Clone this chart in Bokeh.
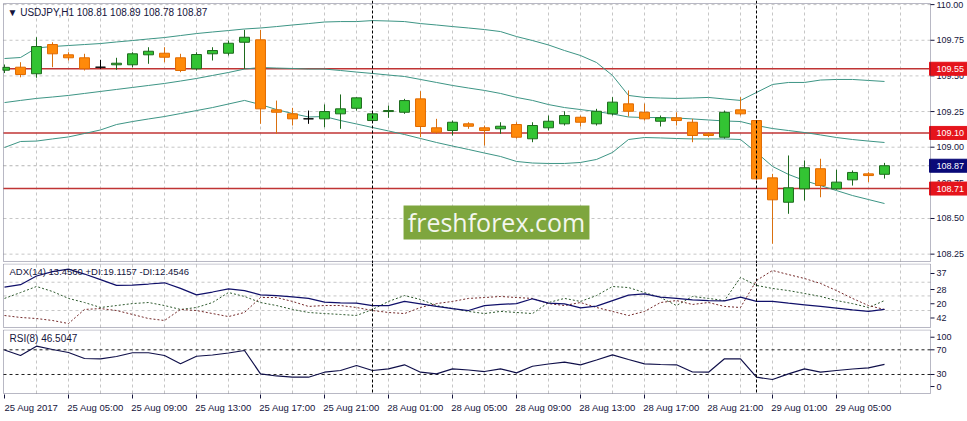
from bokeh.plotting import figure
from bokeh.layouts import column
from bokeh.models import Range1d, FixedTicker, Span, Label, BoxAnnotation, ColumnDataSource
from bokeh.core.properties import value
from bokeh.embed import file_html
from bokeh.resources import INLINE

# ---------------- data ----------------
bars = list(range(56))
time_label_bars = [0, 4, 8, 12, 16, 20, 24, 28, 32, 36, 40, 44, 48, 52]
time_labels = ["25 Aug 2017", "25 Aug 05:00", "25 Aug 09:00", "25 Aug 13:00", "25 Aug 17:00",
               "25 Aug 21:00", "28 Aug 01:00", "28 Aug 05:00", "28 Aug 09:00", "28 Aug 13:00",
               "28 Aug 17:00", "28 Aug 21:00", "29 Aug 01:00", "29 Aug 05:00"]
grid_bars = list(range(2, 58, 2))
day_start_bars = [23, 47]

opens = [109.540, 109.561, 109.515, 109.720, 109.648, 109.627, 109.561, 109.578, 109.578, 109.648,
         109.659, 109.627, 109.550, 109.655, 109.659, 109.736, 109.753, 109.262, 109.234, 109.199,
         109.199, 109.234, 109.273, 109.187, 109.250, 109.245, 109.339, 109.136, 109.117, 109.164,
         109.136, 109.129, 109.159, 109.059, 109.136, 109.164, 109.210, 109.164, 109.234, 109.304,
         109.245, 109.182, 109.206, 109.175, 109.094, 109.070, 109.262, 109.187, 108.785, 108.614,
         108.708, 108.849, 108.708, 108.771, 108.813, 108.810]
highs = [109.580, 109.596, 109.771, 109.736, 109.666, 109.655, 109.613, 109.627, 109.666, 109.701,
         109.701, 109.655, 109.666, 109.701, 109.748, 109.823, 109.823, 109.327, 109.276, 109.257,
         109.300, 109.370, 109.351, 109.245, 109.292, 109.339, 109.393, 109.199, 109.187, 109.175,
         109.152, 109.175, 109.175, 109.175, 109.222, 109.252, 109.222, 109.269, 109.351, 109.398,
         109.306, 109.222, 109.245, 109.199, 109.105, 109.257, 109.351, 109.190, 108.813, 108.942,
         108.907, 108.919, 108.842, 108.837, 108.825, 108.890]
lows = [109.520, 109.490, 109.487, 109.561, 109.608, 109.538, 109.550, 109.543, 109.561, 109.585,
        109.596, 109.526, 109.538, 109.608, 109.643, 109.550, 109.164, 109.094, 109.152, 109.164,
        109.140, 109.129, 109.257, 109.175, 109.206, 109.234, 109.070, 109.094, 109.082, 109.129,
        109.012, 109.094, 109.060, 109.035, 109.117, 109.152, 109.145, 109.152, 109.222, 109.215,
        109.187, 109.145, 109.152, 109.035, 109.070, 109.060, 109.222, 108.770, 108.323, 108.533,
        108.626, 108.649, 108.701, 108.731, 108.755, 108.780]
closes = [109.560, 109.510, 109.706, 109.655, 109.627, 109.550, 109.561, 109.589, 109.655, 109.673,
          109.631, 109.538, 109.650, 109.678, 109.729, 109.771, 109.269, 109.245, 109.199, 109.199,
          109.250, 109.269, 109.346, 109.234, 109.257, 109.327, 109.145, 109.105, 109.175, 109.147,
          109.117, 109.147, 109.070, 109.152, 109.182, 109.222, 109.175, 109.252, 109.316, 109.252,
          109.199, 109.206, 109.187, 109.082, 109.082, 109.245, 109.234, 108.778, 108.631, 108.715,
          108.856, 108.731, 108.755, 108.823, 108.801, 108.870]

bb_upper = [109.622, 109.629, 109.696, 109.706, 109.713, 109.720, 109.727, 109.738, 109.748, 109.759,
            109.769, 109.783, 109.797, 109.808, 109.818, 109.829, 109.836, 109.846, 109.857, 109.867,
            109.878, 109.881, 109.881, 109.888, 109.885, 109.881, 109.867, 109.857, 109.846, 109.836,
            109.825, 109.811, 109.776, 109.748, 109.717, 109.678, 109.643, 109.594, 109.503, 109.363,
            109.349, 109.345, 109.342, 109.345, 109.349, 109.338, 109.328, 109.384, 109.440, 109.454,
            109.454, 109.471, 109.475, 109.475, 109.468, 109.461]
bb_middle = [109.313, 109.328, 109.342, 109.352, 109.363, 109.377, 109.391, 109.405, 109.419, 109.433,
             109.447, 109.464, 109.482, 109.503, 109.524, 109.548, 109.559, 109.555, 109.552, 109.548,
             109.548, 109.538, 109.527, 109.517, 109.506, 109.496, 109.475, 109.454, 109.433, 109.415,
             109.398, 109.377, 109.349, 109.328, 109.299, 109.278, 109.264, 109.250, 109.233, 109.212,
             109.208, 109.208, 109.205, 109.198, 109.191, 109.184, 109.180, 109.152, 109.131, 109.117,
             109.103, 109.086, 109.068, 109.054, 109.043, 109.033]
bb_lower = [108.998, 109.040, 109.043, 109.058, 109.072, 109.096, 109.121, 109.159, 109.180, 109.198,
            109.215, 109.236, 109.257, 109.278, 109.303, 109.328, 109.299, 109.264, 109.236, 109.212,
            109.215, 109.187, 109.163, 109.138, 109.114, 109.089, 109.061, 109.033, 109.008, 108.984,
            108.959, 108.935, 108.900, 108.889, 108.886, 108.886, 108.893, 108.914, 108.963, 109.054,
            109.068, 109.065, 109.061, 109.058, 109.058, 109.058, 109.054, 108.963, 108.865, 108.809,
            108.766, 108.731, 108.696, 108.661, 108.633, 108.605]

adx = [29.4, 30.7, 35.6, 38.1, 39.5, 36.7, 33.6, 30.3, 30.5, 31.1,
       31.8, 28.6, 25.0, 26.6, 28.4, 27.4, 25.0, 24.6, 23.8, 23.0,
       20.9, 20.5, 20.3, 19.0, 19.0, 21.3, 19.9, 18.5, 17.3, 16.2,
       19.0, 19.6, 20.1, 22.8, 20.4, 19.9, 17.7, 18.7, 21.8, 24.9,
       25.5, 23.7, 23.0, 22.2, 21.7, 21.6, 23.7, 21.3, 21.3, 20.3,
       19.4, 18.5, 17.5, 16.5, 15.7, 16.8]
plus_di = [23.0, 26.3, 29.7, 26.9, 23.0, 20.7, 17.9, 19.0, 20.1, 20.7,
           19.0, 16.8, 17.9, 20.7, 26.3, 24.1, 20.7, 19.0, 16.8, 15.1,
           14.5, 14.0, 13.4, 16.8, 21.3, 24.6, 22.4, 19.0, 17.3, 15.7,
           14.5, 15.7, 15.1, 14.5, 20.7, 23.0, 21.3, 24.6, 29.7, 29.1,
           26.3, 23.5, 19.0, 24.1, 23.0, 21.8, 34.8, 30.3, 28.6, 27.4,
           25.8, 24.1, 21.8, 20.1, 17.9, 21.8]
minus_di = [13.4, 12.3, 11.7, 10.6, 8.9, 16.8, 17.3, 16.2, 14.0, 11.7,
            10.6, 16.8, 16.2, 14.5, 12.8, 15.1, 23.5, 23.5, 21.3, 18.5,
            19.0, 19.0, 17.9, 16.2, 15.1, 14.5, 17.9, 20.1, 21.3, 23.0,
            23.5, 24.1, 23.5, 23.0, 20.1, 19.0, 20.7, 17.9, 15.7, 13.4,
            15.7, 20.7, 21.8, 19.6, 20.7, 18.5, 17.9, 33.1, 38.7, 36.4,
            34.2, 31.4, 27.4, 23.0, 19.0, 16.8]
rsi = [69.7, 60.8, 75.9, 70.5, 65.6, 55.9, 55.4, 59.2, 65.2, 65.2,
       60.8, 47.3, 59.6, 61.6, 64.8, 68.9, 31.1, 27.6, 25.6, 25.6,
       33.7, 36.5, 44.6, 36.5, 39.2, 45.7, 33.7, 31.1, 39.2, 37.3,
       34.8, 39.2, 32.7, 43.4, 47.0, 49.9, 45.7, 53.5, 61.9, 54.3,
       47.3, 46.2, 45.7, 34.0, 33.7, 55.4, 55.4, 25.6, 21.9, 31.1,
       39.2, 33.7, 36.5, 38.9, 40.8, 46.5]

price_ticks = [110.00, 109.75, 109.50, 109.25, 109.00, 108.75, 108.50, 108.25]
price_tick_labels = ["110.00", "109.75", "109.50", "109.25", "109.00", "108.75", "108.50", "108.25"]
price_grid = [110.00, 109.75, 109.50, 109.25, 109.00, 108.50, 108.25]
level_lines = [109.55, 109.10, 108.71]
bid_price = 108.87

adx_ticks = [37, 28, 20, 12]
adx_tick_labels = ["37", "28", "20", "42"]
adx_grid = [32.1, 24.4, 16.2]
rsi_levels = [70, 30]
rsi_ticks = [90.4, 70, 30, 10.5]
rsi_tick_labels = ["100", "70", "30", "0"]

main_title = "\u25bc USDJPY,H1  108.81 108.89 108.78 108.87"
adx_title = "ADX(14) 13.4560 +DI:19.1157 -DI:12.4546"
rsi_title = "RSI(8) 46.5047"
watermark = "freshforex.com"

# ---------------- style / layout ----------------
FONT = "Liberation Sans"
INK = "#14143c"
GRID = "#c6c6c6"
BAND = "#3d9585"
W = 967
AX = 57.875            # bar-axis position of the price scale line
X_LEFT = -0.0625       # left border of the chart panes
xr = Range1d(-0.125, 60.1875)


def make_fig(height, yr, bottom, with_xaxis=False):
    p = figure(width=W, height=height, x_range=xr, y_range=yr, output_backend="svg",
               toolbar_location=None, title=None, y_axis_location=None,
               x_axis_location="below" if with_xaxis else None,
               min_border_left=2, min_border_top=0, min_border_right=0,
               min_border_bottom=bottom)
    p.background_fill_color = "white"
    p.border_fill_color = "white"
    p.outline_line_color = None
    p.grid.visible = False
    for b in day_start_bars:
        p.add_layout(Span(location=b, dimension="height", line_color="black",
                          line_dash="3 2", line_width=1))
    return p


def pane_frame(p, y_bot, y_top, hgrid):
    n = len(grid_bars)
    p.segment(x0=grid_bars, y0=[y_bot] * n, x1=grid_bars, y1=[y_top] * n,
              line_color=GRID, line_dash="3 3", line_width=1)
    if hgrid:
        m = len(hgrid)
        p.segment(x0=[X_LEFT] * m, y0=hgrid, x1=[AX] * m, y1=hgrid,
                  line_color=GRID, line_dash="3 3", line_width=1)
    p.add_layout(BoxAnnotation(left=X_LEFT, right=AX, bottom=y_bot, top=y_top,
                               fill_color=None, line_color=INK, line_width=1))


def right_scale(p, ticks, labels, size="9px"):
    n = len(ticks)
    p.segment(x0=[AX] * n, y0=ticks, x1=[AX + 0.25] * n, y1=ticks, line_color=INK, line_width=1)
    p.text(x=[AX + 0.375] * n, y=ticks, text=labels, text_font=value(FONT),
           text_font_size=value(size), text_color=INK, text_baseline="middle", text_align="left")


# ---------------- main pane ----------------
main = make_fig(263, Range1d(108.1844, 110.0288), 0)
pane_frame(main, 108.1985, 110.0077, price_grid)

main.add_layout(BoxAnnotation(left=24.94, right=36.56, bottom=108.353, top=108.591,
                              fill_color="#7ea63e", fill_alpha=1.0, line_alpha=0))
main.add_layout(Label(x=30.75, y=108.472, text=watermark, text_align="center",
                      text_baseline="middle", text_font="Open Sans", text_font_size="25px",
                      text_color="#f4f6ee"))

main.segment(x0=[X_LEFT], y0=[bid_price], x1=[AX], y1=[bid_price], line_color="#b4b4b4",
             line_dash="3 3", line_width=1)
nl = len(level_lines)
main.segment(x0=[X_LEFT] * nl, y0=level_lines, x1=[AX] * nl, y1=level_lines,
             line_color="#c03434", line_width=1.5)

src = ColumnDataSource(dict(x=bars, up=bb_upper, mid=bb_middle, lo=bb_lower))
for col in ("up", "mid", "lo"):
    main.line("x", col, source=src, line_color=BAND, line_width=1)

bull = [i for i in bars if closes[i] > opens[i]]
bear = [i for i in bars if closes[i] < opens[i]]
doji = [i for i in bars if closes[i] == opens[i]]


def cds(idx):
    return ColumnDataSource(dict(
        x=idx, h=[highs[i] for i in idx], l=[lows[i] for i in idx],
        top=[max(opens[i], closes[i]) for i in idx],
        bot=[min(opens[i], closes[i]) for i in idx]))


for idx, wick, fill, edge in ((bull, "#1d6a1d", "#33c433", "#1d6a1d"),
                              (bear, "#d9700f", "#ff8a0a", "#e06a00"),
                              (doji, "#000000", "#000000", "#000000")):
    s = cds(idx)
    main.segment(x0="x", y0="l", x1="x", y1="h", source=s, line_color=wick, line_width=1)
    main.vbar(x="x", width=0.62, top="top", bottom="bot", source=s,
              fill_color=fill, line_color=edge, line_width=1)

main.add_layout(Label(x=0.19, y=109.9446, text=main_title, text_baseline="middle",
                      text_font=FONT, text_font_size="10px", text_color=INK))

right_scale(main, price_ticks, price_tick_labels)
# value boxes on the price scale
box_h = 0.0456
box_src = ColumnDataSource(dict(
    y=level_lines + [bid_price],
    b=[v - box_h for v in level_lines + [bid_price]],
    t=[v + box_h for v in level_lines + [bid_price]],
    txt=[f"{v:.2f}" for v in level_lines + [bid_price]],
    col=["#e5141c"] * nl + ["#0a0a78"]))
main.quad(left=AX - 0.0625, right=60.2, bottom="b", top="t", source=box_src,
          fill_color="col", line_color="col")
main.text(x=AX + 0.375, y="y", text="txt", source=box_src, text_font=value(FONT),
          text_font_size=value("9px"), text_color="white", text_baseline="middle",
          text_align="left")

# ---------------- ADX pane ----------------
pa = make_fig(66, Range1d(5.539, 42.618), 0)
pane_frame(pa, 6.663, 42.34, adx_grid)
sa = ColumnDataSource(dict(x=bars, adx=adx, pdi=plus_di, mdi=minus_di))
pa.line("x", "pdi", source=sa, line_color="#2f5a2f", line_width=1, line_dash="2 2")
pa.line("x", "mdi", source=sa, line_color="#742a2a", line_width=1, line_dash="2 2")
pa.line("x", "adx", source=sa, line_color="#10106a", line_width=1.25)
pa.add_layout(Label(x=0.3125, y=38.12, text=adx_title, text_baseline="middle",
                    text_font=FONT, text_font_size="9.5px", text_color=INK))
right_scale(pa, adx_ticks, adx_tick_labels)

# ---------------- RSI pane ----------------
pr = make_fig(92, Range1d(-2.43, 102.92), 27, with_xaxis=True)
pane_frame(pr, -0.81, 102.11, None)
nr = len(rsi_levels)
pr.segment(x0=[X_LEFT] * nr, y0=rsi_levels, x1=[AX] * nr, y1=rsi_levels,
           line_color="#202020", line_dash="3 3", line_width=1)
sr = ColumnDataSource(dict(x=bars, rsi=rsi))
pr.line("x", "rsi", source=sr, line_color="#10104a", line_width=1.2)
pr.add_layout(Label(x=0.3125, y=88.3, text=rsi_title, text_baseline="middle",
                    text_font=FONT, text_font_size="10px", text_color=INK))
right_scale(pr, rsi_ticks, rsi_tick_labels)

label_pos = [b + 27 / 16 for b in time_label_bars]
xa = pr.xaxis[0]
xa.ticker = FixedTicker(ticks=label_pos, minor_ticks=time_label_bars)
xa.major_label_overrides = dict(zip(label_pos, time_labels))
xa.major_tick_out = 0
xa.major_tick_in = 0
xa.minor_tick_out = 4
xa.minor_tick_in = 0
xa.minor_tick_line_color = INK
xa.axis_line_color = None
xa.major_label_standoff = 3
xa.major_label_text_font_size = "9.5px"
xa.major_label_text_font = FONT
xa.major_label_text_color = INK

layout = column(main, pa, pr, spacing=0)
open("out.html", "w").write(file_html(layout, INLINE))
